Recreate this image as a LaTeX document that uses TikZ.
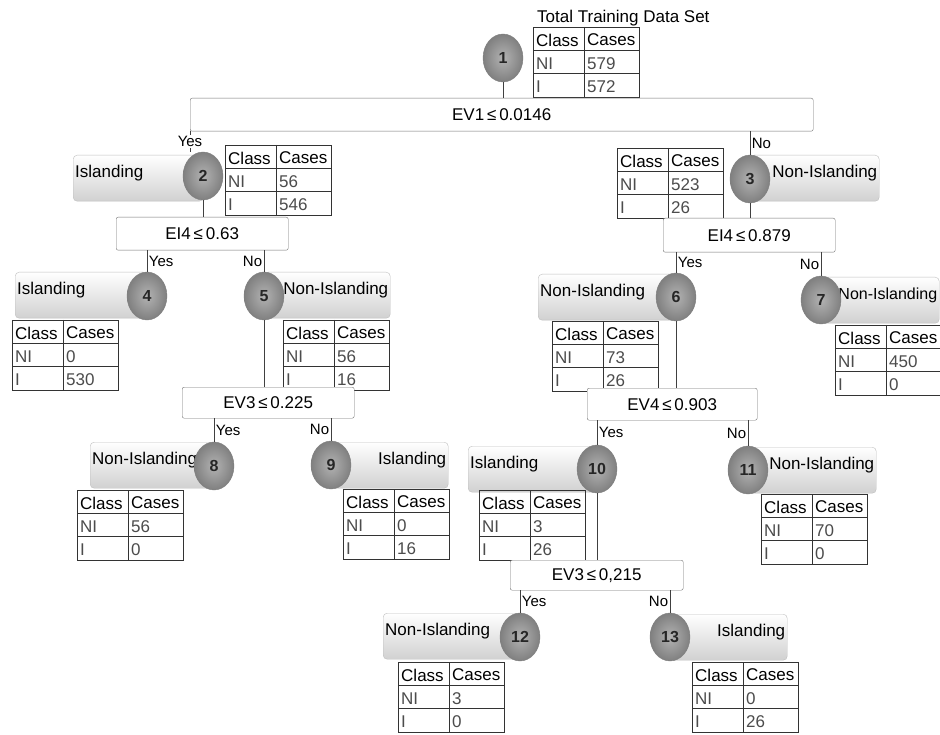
\documentclass[tikz,border=0pt]{standalone}
\usepackage{fontspec}
\setmainfont{Liberation Sans}
\usepackage{tikz}
\usetikzlibrary{shapes.geometric,positioning,calc}

\newcommand{\casetab}[4]{%
\node[tab] (#1) at (#2) {};
\draw[tabrule] ([yshift=-23.3pt]#1.north west) -- ([yshift=-23.3pt]#1.north east)
  ([yshift=-46.7pt]#1.north west) -- ([yshift=-46.7pt]#1.north east)
  ([xshift=51pt]#1.north west) -- ([xshift=51pt]#1.south west);
\node[cell] at ([shift={(3pt,-13pt)}]#1.north west) {Class};
\node[cell] at ([shift={(54pt,-13pt)}]#1.north west) {Cases};
\node[cell,val] at ([shift={(3pt,-36.3pt)}]#1.north west) {NI};
\node[cell,val] at ([shift={(54pt,-36.3pt)}]#1.north west) {#3};
\node[cell,val] at ([shift={(3pt,-59.6pt)}]#1.north west) {I};
\node[cell,val] at ([shift={(54pt,-59.6pt)}]#1.north west) {#4};
}

\begin{document}
\begin{tikzpicture}[x=1pt, y=-1pt, every node/.style={font=\fontsize{17}{20}\selectfont},
edge/.style={draw=black!75,line width=0.8pt},
tnode/.style={ellipse,draw=black!50,inner color=black!30,outer color=black!50,minimum width=40pt,minimum height=48pt,inner sep=0pt,text=black!85,font=\bfseries\fontsize{16}{16}\selectfont},
lab/.style={rectangle,rounded corners=4pt,draw=black!25,top color=white,bottom color=black!18,anchor=north west,minimum height=46pt,inner xsep=2pt,inner ysep=0pt,text height=12pt,text depth=14pt},
cond/.style={rectangle,rounded corners=2pt,draw=black!55,fill=white,anchor=north west,inner sep=0pt},
tab/.style={rectangle,draw=black!80,line width=0.8pt,anchor=north west,minimum width=106pt,minimum height=70pt,inner sep=0pt},
tabrule/.style={draw=black!80,line width=0.8pt},
cell/.style={anchor=west,inner sep=0pt},
val/.style={text=black!70},
yn/.style={font=\fontsize{15}{17}\selectfont,inner sep=1.5pt}]
\useasboundingbox[fill=white] (0,0) rectangle (940,735);

\node[lab,text width=126pt,align=left] (l2) at (73,155) {Islanding};
\node[lab,text width=125pt,align=right] (l3) at (750,155) {Non-Islanding};
\node[lab,text width=128pt,align=left] (l4) at (15,272) {Islanding};
\node[lab,text width=122pt,align=right] (l5) at (264,272) {Non-Islanding};
\node[lab,text width=134pt,align=left] (l6) at (538,274) {Non-Islanding};
\node[lab,text width=114pt,align=right,font=\fontsize{16}{19}\selectfont] (l7) at (821,277) {Non-Islanding};
\node[lab,text width=120pt,align=left] (l8) at (90,442) {Non-Islanding};
\node[lab,text width=113pt,align=right] (l9) at (331,442) {Islanding};
\node[lab,text width=125pt,align=left] (l10) at (468,446) {Islanding};
\node[lab,text width=124pt,align=right] (l11) at (748,447) {Non-Islanding};
\node[lab,text width=133pt,align=left] (l12) at (383,613) {Non-Islanding};
\node[lab,text width=113pt,align=right] (l13) at (670,614) {Islanding};

\node[tnode] (n1) at (503,58) {1};
\node[tnode] (n2) at (203,176) {2};
\node[tnode] (n3) at (750,179) {3};
\node[tnode] (n4) at (147,296) {4};
\node[tnode] (n5) at (264,296) {5};
\node[tnode] (n6) at (676,297) {6};
\node[tnode] (n7) at (821,300) {7};
\node[tnode] (n8) at (214,466) {8};
\node[tnode] (n9) at (331,465) {9};
\node[tnode] (n10) at (597,469) {10};
\node[tnode] (n11) at (748,470) {11};
\node[tnode] (n12) at (520,637) {12};
\node[tnode] (n13) at (670,637) {13};

\node[anchor=base west,inner sep=0pt] (title) at (537,23) {Total Training Data Set};
\casetab{t1}{533,27}{579}{572}
\casetab{t2}{225,145}{56}{546}
\casetab{t3}{617,148}{523}{26}
\casetab{t4}{12,320}{0}{530}
\casetab{t5}{283,320}{56}{16}
\casetab{t6}{552,321}{73}{26}
\casetab{t7}{835,325}{450}{0}
\casetab{t8}{77,490}{56}{0}
\casetab{t9}{343,489}{0}{16}
\casetab{t10}{479,490}{3}{26}
\casetab{t11}{761,494}{70}{0}
\casetab{t12}{398,662}{3}{0}
\casetab{t13}{692,662}{0}{26}

\node[cond,minimum width=623pt,minimum height=33pt] (c1) at (190,98) {EV1\,≤\,0.0146};
\node[cond,minimum width=172pt,minimum height=33pt] (c2) at (116,217) {EI4\,≤\,0.63};
\node[cond,minimum width=172pt,minimum height=34pt] (c3) at (663,218) {EI4\,≤\,0.879};
\node[cond,minimum width=172pt,minimum height=31pt] (c4) at (182,387) {EV3\,≤\,0.225};
\node[cond,minimum width=170pt,minimum height=32pt] (c5) at (587,388) {EV4\,≤\,0.903};
\node[cond,minimum width=173pt,minimum height=30pt] (c6) at (510,560) {EV3\,≤\,0,215};

\draw[edge] (n1.south) -- (n1 |- c1.north);
\draw[edge] (c1.south west) -- node[yn,fill=white] {Yes} (c1.south west |- n2.north);
\draw[edge] (c1.south -| n3) -- node[yn,right] {No} (n3.north);
\draw[edge] (n2.south) -- (n2 |- c2.north);
\draw[edge] (c2.south -| n4) -- node[yn,right] {Yes} (n4.north);
\draw[edge] (c2.south -| n5) -- node[yn,left] {No} (n5.north);
\draw[edge] (n3.south) -- (n3 |- c3.north);
\draw[edge] (c3.south -| n6) -- node[yn,right] {Yes} (n6.north);
\draw[edge] (c3.south -| n7) -- node[yn,left] {No} (n7.north);
\draw[edge] (n5.south) -- (n5 |- c4.north);
\draw[edge] (c4.south -| n8) -- node[yn,right] {Yes} (n8.north);
\draw[edge] (c4.south -| n9) -- node[yn,left] {No} (n9.north);
\draw[edge] (n6.south) -- (n6 |- c5.north);
\draw[edge] (c5.south -| n10) -- node[yn,right] {Yes} (n10.north);
\draw[edge] (c5.south -| n11) -- node[yn,left] {No} (n11.north);
\draw[edge] (n10.south) -- (n10 |- c6.north);
\draw[edge] (c6.south -| n12) -- node[yn,right] {Yes} (n12.north);
\draw[edge] (c6.south -| n13) -- node[yn,left] {No} (n13.north);
\end{tikzpicture}
\end{document}
